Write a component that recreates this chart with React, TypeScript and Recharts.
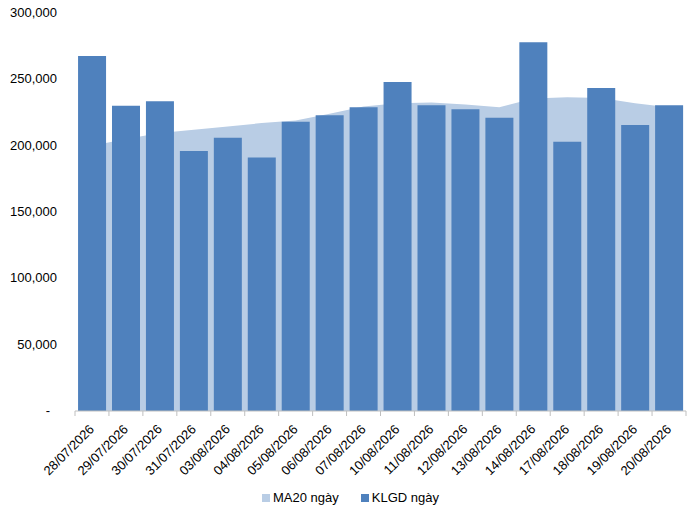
import { ComposedChart, Bar, Area, XAxis, YAxis, Legend } from "recharts"

const dates = [
  "28/07/2026", "29/07/2026", "30/07/2026", "31/07/2026", "03/08/2026", "04/08/2026",
  "05/08/2026", "06/08/2026", "07/08/2026", "10/08/2026", "11/08/2026", "12/08/2026",
  "13/08/2026", "14/08/2026", "17/08/2026", "18/08/2026", "19/08/2026", "20/08/2026",
]

// KLGD ngày (daily volume)
const volume = [
  267500, 230000, 233500, 196000, 206000, 191000, 218000, 223000, 229000,
  248000, 230500, 227500, 221000, 278000, 203000, 243500, 215500, 230500,
]

// MA20 ngày
const ma20 = [
  200000, 205000, 209500, 212000, 214500, 217000, 219000, 224000, 229500,
  232000, 232500, 231000, 229000, 235500, 236500, 236000, 232000, 229000,
]

const yTicks = [0, 50000, 100000, 150000, 200000, 250000, 300000]

const BAR_COLOR = "#4F81BD"
const AREA_COLOR = "#B9CDE5"
const AXIS_COLOR = "#BFBFBF"
const FONT = "'Liberation Sans', Arial, sans-serif"

const data = dates.map((d, i) => ({ date: d, klgd: volume[i], ma20: ma20[i] }))

// half of one category band, plot is 611px wide
const HALF_BAND = 611 / dates.length / 2

function YTick({ x, y, payload }: any) {
  const v = payload.value as number
  return (
    <text x={v === 0 ? x - 22 : x - 15} y={y} dy={4} textAnchor="end" fontSize={13} fontFamily={FONT} fill="#000">
      {v === 0 ? "-" : v.toLocaleString("en-US")}
    </text>
  )
}

function XTick({ x, y, payload, index }: any) {
  const tx = x + 3
  const ty = y + 12
  const axisY = y - 7
  return (
    <g>
      <line x1={x - HALF_BAND} x2={x - HALF_BAND} y1={axisY} y2={axisY + 5} stroke={AXIS_COLOR} />
      {index === dates.length - 1 && (
        <line x1={x + HALF_BAND} x2={x + HALF_BAND} y1={axisY} y2={axisY + 5} stroke={AXIS_COLOR} />
      )}
      <text
        x={tx}
        y={ty}
        transform={`rotate(-45 ${tx} ${ty})`}
        textAnchor="end"
        fontSize={13}
        fontFamily={FONT}
        fill="#000"
      >
        {payload.value}
      </text>
    </g>
  )
}

function LegendContent() {
  const items = [
    { label: "MA20 ngày", color: AREA_COLOR },
    { label: "KLGD ngày", color: BAR_COLOR },
  ]
  return (
    <div style={{ display: "flex", justifyContent: "center", gap: 22, fontFamily: FONT, fontSize: 13 }}>
      {items.map((it) => (
        <span key={it.label} style={{ display: "flex", alignItems: "center", gap: 3 }}>
          <span style={{ width: 8, height: 8, background: it.color, display: "inline-block" }} />
          {it.label}
        </span>
      ))}
    </div>
  )
}

export default function App() {
  return (
    <div style={{ position: "fixed", left: 0, top: 0, background: "#fff" }}>
      <ComposedChart
        width={690}
        height={508}
        data={data}
        margin={{ top: 13, right: 4, left: 15, bottom: 0 }}
        barCategoryGap="9%"
      >
        <XAxis
          dataKey="date"
          interval={0}
          height={79}
          tick={<XTick />}
          tickLine={false}
          axisLine={{ stroke: AXIS_COLOR }}
          tickSize={5}
        />
        <YAxis
          width={60}
          domain={[0, 300000]}
          ticks={yTicks}
          axisLine={false}
          tickLine={false}
          tickSize={0}
          tickMargin={3}
          tick={<YTick />}
        />
        <Legend verticalAlign="bottom" height={18} content={<LegendContent />} />
        <Area
          type="linear"
          dataKey="ma20"
          name="MA20 ngày"
          fill={AREA_COLOR}
          fillOpacity={1}
          stroke="none"
          isAnimationActive={false}
        />
        <Bar dataKey="klgd" name="KLGD ngày" fill={BAR_COLOR} isAnimationActive={false} />
      </ComposedChart>
    </div>
  )
}
